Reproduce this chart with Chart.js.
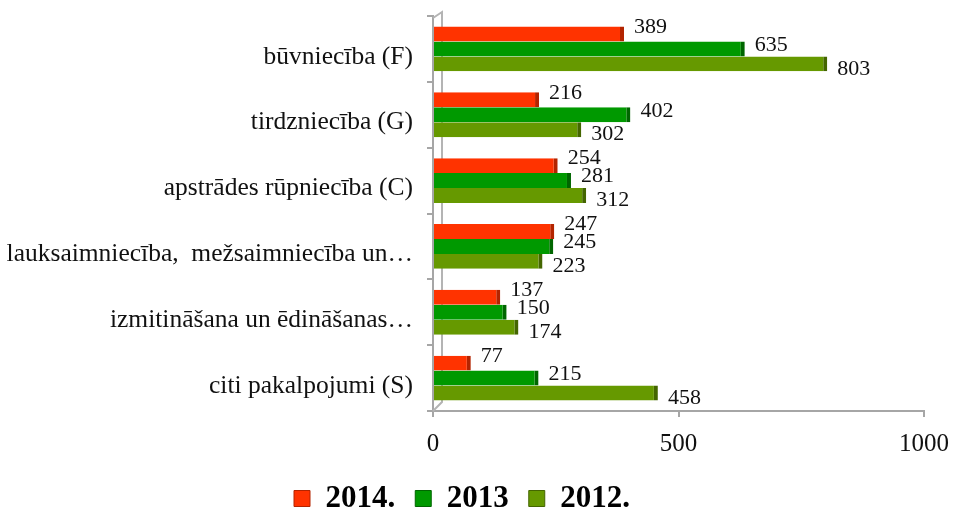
<!DOCTYPE html>
<html>
<head>
<meta charset="utf-8">
<script src="https://cdn.jsdelivr.net/npm/chart.js@4"></script>
<style>
  html, body { margin: 0; padding: 0; background: #fff; }
  #c { display: block; }
</style>
</head>
<body>
<canvas id="c" width="961" height="513"></canvas>
<script>
var categories = ['būvniecība (F)', 'tirdzniecība (G)', 'apstrādes rūpniecība (C)', 'lauksaimniecība,  mežsaimniecība un…', 'izmitināšana un ēdināšanas…', 'citi pakalpojumi (S)'];
var values2014 = [389, 216, 254, 247, 137, 77];
var values2013 = [635, 402, 281, 245, 150, 215];
var values2012 = [803, 302, 312, 223, 174, 458];
var xTicks = [0, 500, 1000];

var serif = '"Liberation Serif", "Times New Roman", serif';
var labelOffsets = [-7, -4, 5];
var depth = 9;

// value labels next to bar ends
var valueLabels = {
    id: 'valueLabels',
    afterDatasetsDraw(chart) {
        let ctx = chart.ctx;
        ctx.save();
        ctx.font = '22px ' + serif;
        ctx.fillStyle = '#111';
        ctx.textAlign = 'left';
        ctx.textBaseline = 'middle';
        chart.data.datasets.forEach((ds, di) => {
            let meta = chart.getDatasetMeta(di);
            meta.data.forEach((bar, i) => {
                ctx.fillText(String(ds.data[i]), bar.x + 10, bar.y + labelOffsets[di]);
            });
        });
        ctx.restore();
    }
};

// back wall line of the 3d plot
var backWall = {
    id: 'backWall',
    beforeDatasetsDraw(chart) {
        let a = chart.chartArea, ctx = chart.ctx;
        ctx.save();
        ctx.strokeStyle = '#b4b4b4';
        ctx.lineWidth = 2;
        ctx.beginPath();
        ctx.moveTo(a.left, a.top + 2);
        ctx.lineTo(a.left + depth, a.top - 4);
        ctx.lineTo(a.left + depth, a.bottom - depth);
        ctx.lineTo(a.left, a.bottom);
        ctx.stroke();
        ctx.restore();
    }
};

function barSet(label, data, color, edge) {
    return {
        label: label,
        data: data,
        backgroundColor: color,
        borderColor: edge,
        borderWidth: { top: 0, left: 0, bottom: 0, right: 4 },
        borderSkipped: false,
        categoryPercentage: 0.68,
        barPercentage: 1.0
    };
}

new Chart(document.getElementById('c'), {
    type: 'bar',
    data: {
        labels: categories,
        datasets: [
            barSet('2014.', values2014, '#ff3300', '#b32400'),
            barSet('2013', values2013, '#009900', '#006600'),
            barSet('2012.', values2012, '#669900', '#446600')
        ]
    },
    options: {
        indexAxis: 'y',
        responsive: false,
        animation: false,
        layout: { padding: { top: 16, right: 37, left: 0, bottom: -11 } },
        scales: {
            x: {
                min: 0,
                max: 1000,
                afterBuildTicks(scale) {
                    scale.ticks = xTicks.map(v => ({ value: v }));
                },
                afterFit(scale) {
                    scale.height = 52;
                    scale.paddingLeft = 0;
                    scale.paddingRight = 0;
                },
                border: { color: '#a6a6a6', width: 2 },
                grid: { drawOnChartArea: false, drawTicks: true, tickLength: 6, color: '#a6a6a6', lineWidth: 2 },
                ticks: {
                    color: '#111',
                    font: { family: serif, size: 25 },
                    padding: 12,
                    maxRotation: 0,
                    callback: v => String(v)
                }
            },
            y: {
                afterFit(scale) {
                    scale.width = 433;
                    scale.paddingTop = 0;
                    scale.paddingBottom = 0;
                },
                border: { color: '#a6a6a6', width: 2 },
                grid: { drawOnChartArea: false, drawTicks: true, tickLength: 6, color: '#a6a6a6', lineWidth: 2, offset: true },
                ticks: { color: '#111', font: { family: serif, size: 25.5 }, padding: 14, labelOffset: 8 }
            }
        },
        plugins: {
            legend: {
                position: 'bottom',
                labels: {
                    color: '#000',
                    boxWidth: 16,
                    boxHeight: 16,
                    padding: 20,
                    font: { family: serif, size: 31, weight: 'bold', lineHeight: 1.0 }
                }
            },
            tooltip: { enabled: false }
        }
    },
    plugins: [backWall, valueLabels]
});
</script>
</body>
</html>
